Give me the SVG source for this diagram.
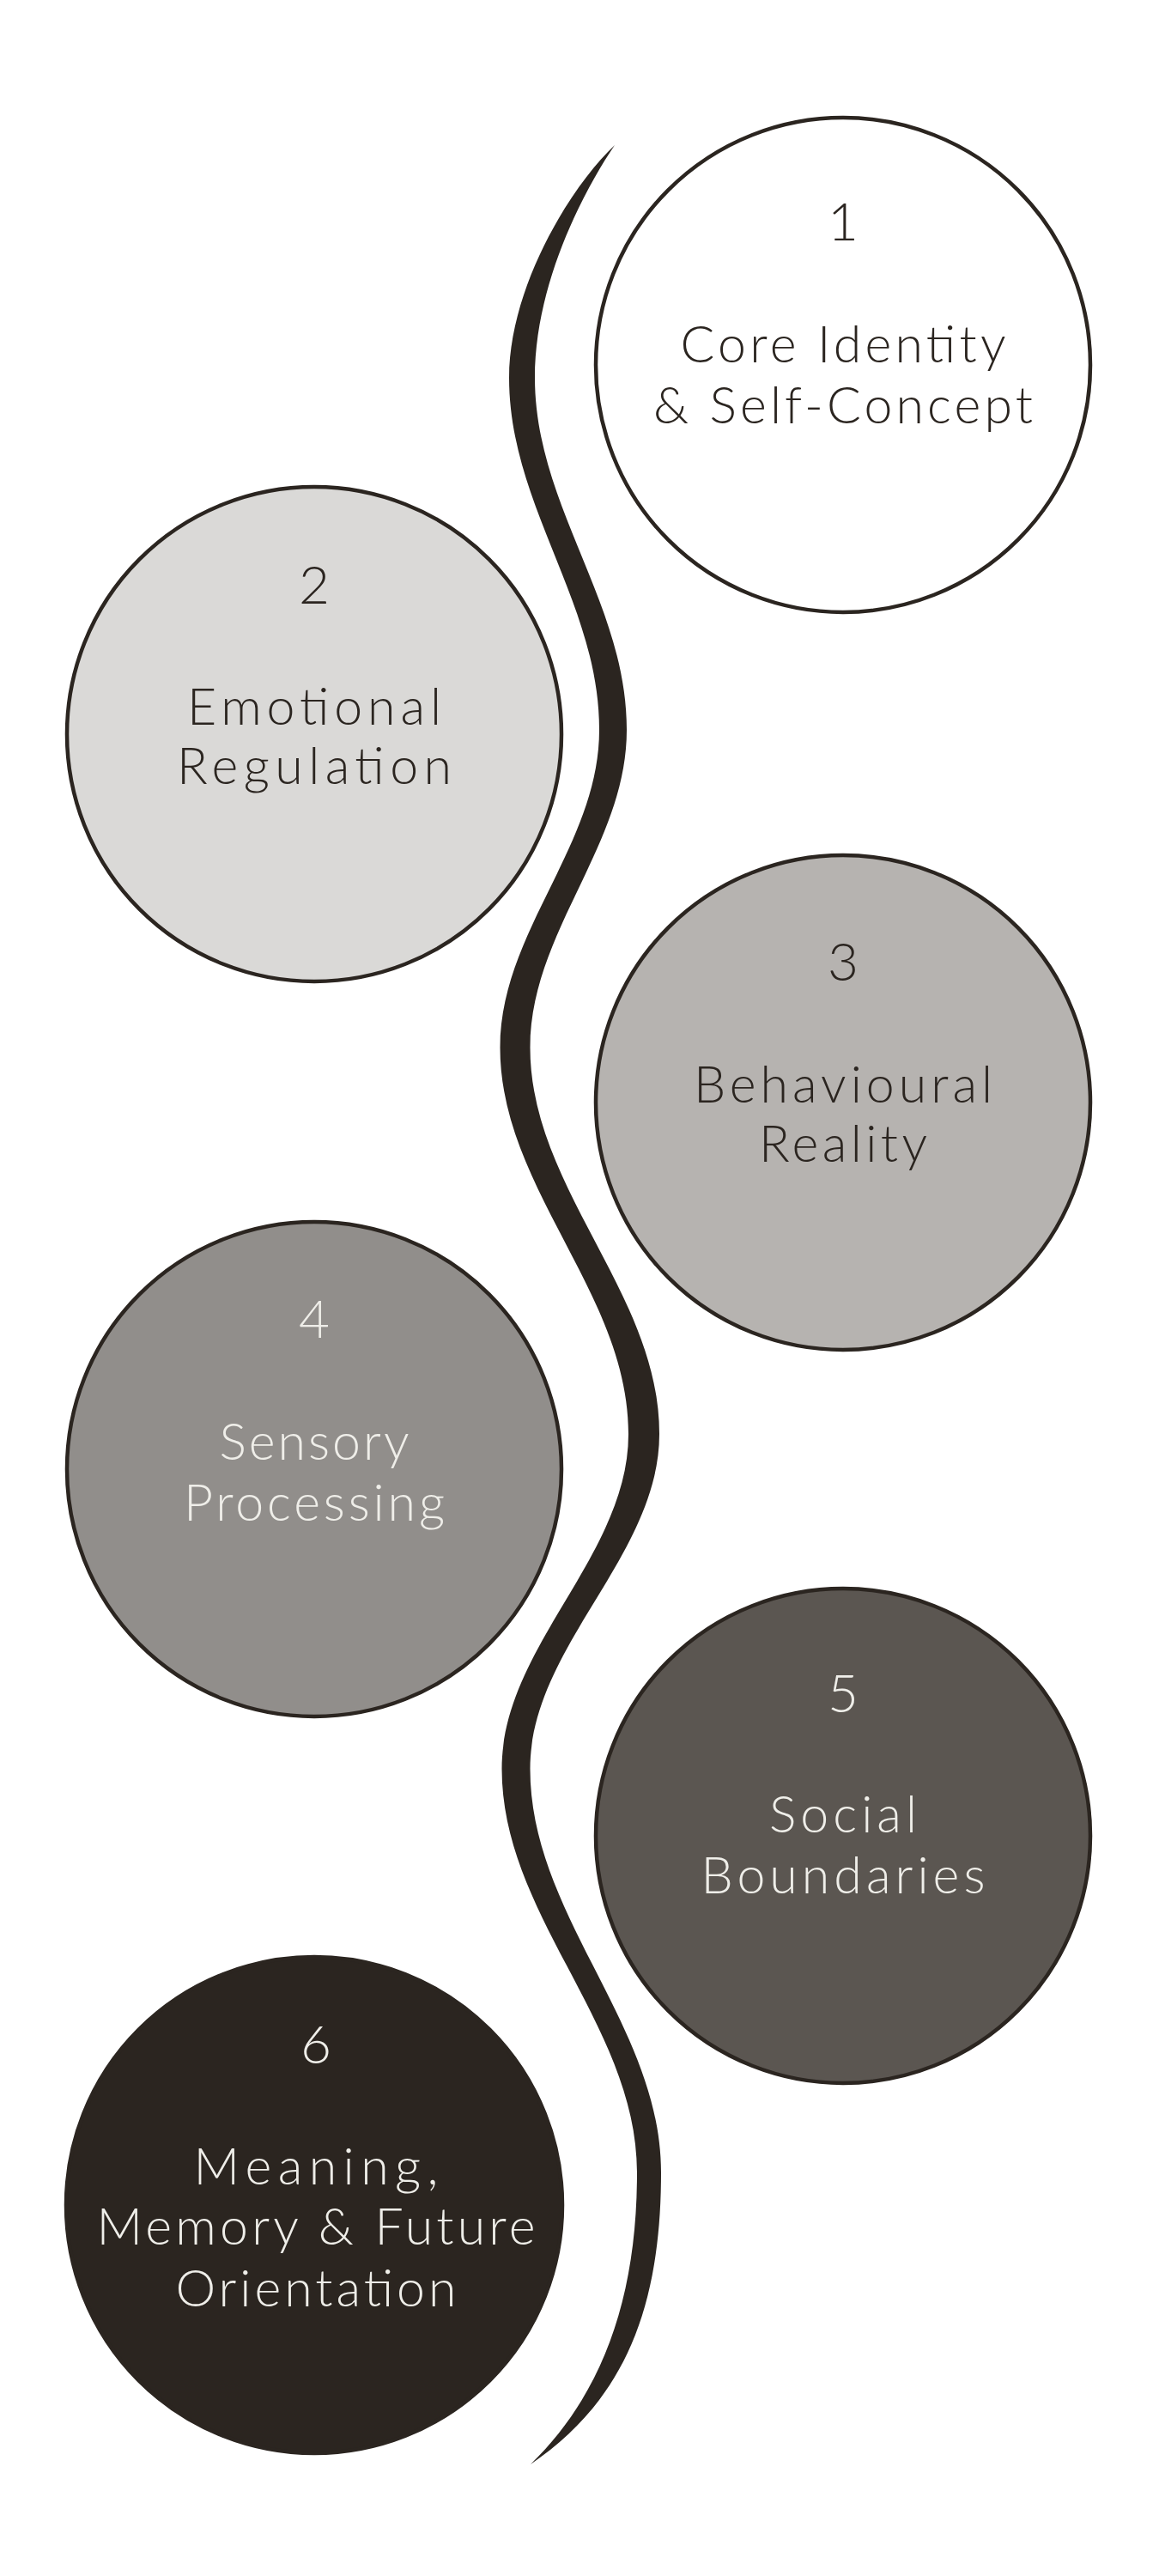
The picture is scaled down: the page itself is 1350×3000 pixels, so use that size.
<svg xmlns="http://www.w3.org/2000/svg" width="1350" height="3000" viewBox="0 0 1350 3000">
<style>
.c{stroke:#2b2520;stroke-width:4.5}
.t{font-family:Lato,"Liberation Sans",sans-serif;font-weight:300;text-anchor:middle;font-size:59px}
.n{font-family:Lato,"Liberation Sans",sans-serif;font-weight:300;text-anchor:middle;font-size:62px}
.d{fill:#2b2520}
.l{fill:#efeee9}
</style>
<rect width="1350" height="3000" fill="#ffffff"/>
<g id="connectors">
<path fill="#2b2520" d="M716,169 C680,222 623,330 623,440 C623,589 730,701 730,850 C730,985 617.5,1085 617.5,1220 C617.5,1384 768,1506 768,1670 C768,1812 617.5,1918 617.5,2060 C617.5,2231 770,2359 770,2530 C770,2700 720,2800 618,2870 C700,2790 742,2680 742,2530 C742,2359 584.5,2231 584.5,2060 C584.5,1918 732,1812 732,1670 C732,1506 582.5,1384 582.5,1220 C582.5,1085 698,985 698,850 C698,701 593,589 593,440 C593,335 664,218 716,169 Z"/>
</g>
<g id="node1">
<circle class="c" cx="982" cy="425" r="288" fill="#ffffff"/>
<text class="n d" x="982" y="280">1</text>
<text class="t d" x="982" y="422" textLength="379" lengthAdjust="spacing">Core Identity</text>
<text class="t d" x="982" y="493" textLength="442" lengthAdjust="spacing">&amp; Self-Concept</text>
</g>
<g id="node2">
<circle class="c" cx="366" cy="855" r="288" fill="#dad9d7"/>
<text class="n d" x="366" y="703">2</text>
<text class="t d" x="366" y="844" textLength="296" lengthAdjust="spacing">Emotional</text>
<text class="t d" x="366" y="913" textLength="320" lengthAdjust="spacing">Regulation</text>
</g>
<g id="node3">
<circle class="c" cx="982" cy="1284" r="288" fill="#b6b3b0"/>
<text class="n d" x="982" y="1142">3</text>
<text class="t d" x="982" y="1284" textLength="348" lengthAdjust="spacing">Behavioural</text>
<text class="t d" x="982" y="1353" textLength="196" lengthAdjust="spacing">Reality</text>
</g>
<g id="node4">
<circle class="c" cx="366" cy="1711" r="288" fill="#918e8b"/>
<text class="n l" x="366" y="1558">4</text>
<text class="t l" x="366" y="1700" textLength="221" lengthAdjust="spacing">Sensory</text>
<text class="t l" x="366" y="1771" textLength="304" lengthAdjust="spacing">Processing</text>
</g>
<g id="node5">
<circle class="c" cx="982" cy="2138" r="288" fill="#5b5651"/>
<text class="n l" x="982" y="1994">5</text>
<text class="t l" x="982" y="2134" textLength="172" lengthAdjust="spacing">Social</text>
<text class="t l" x="982" y="2205" textLength="331" lengthAdjust="spacing">Boundaries</text>
</g>
<g id="node6">
<circle class="c" cx="366" cy="2568" r="289" fill="#2b2520"/>
<text class="n l" x="368" y="2403">6</text>
<text class="t l" x="368" y="2544" textLength="285" lengthAdjust="spacing">Meaning,</text>
<text class="t l" x="368" y="2614" textLength="511" lengthAdjust="spacing">Memory &amp; Future</text>
<text class="t l" x="368" y="2686" textLength="327" lengthAdjust="spacing">Orientation</text>
</g>
</svg>
